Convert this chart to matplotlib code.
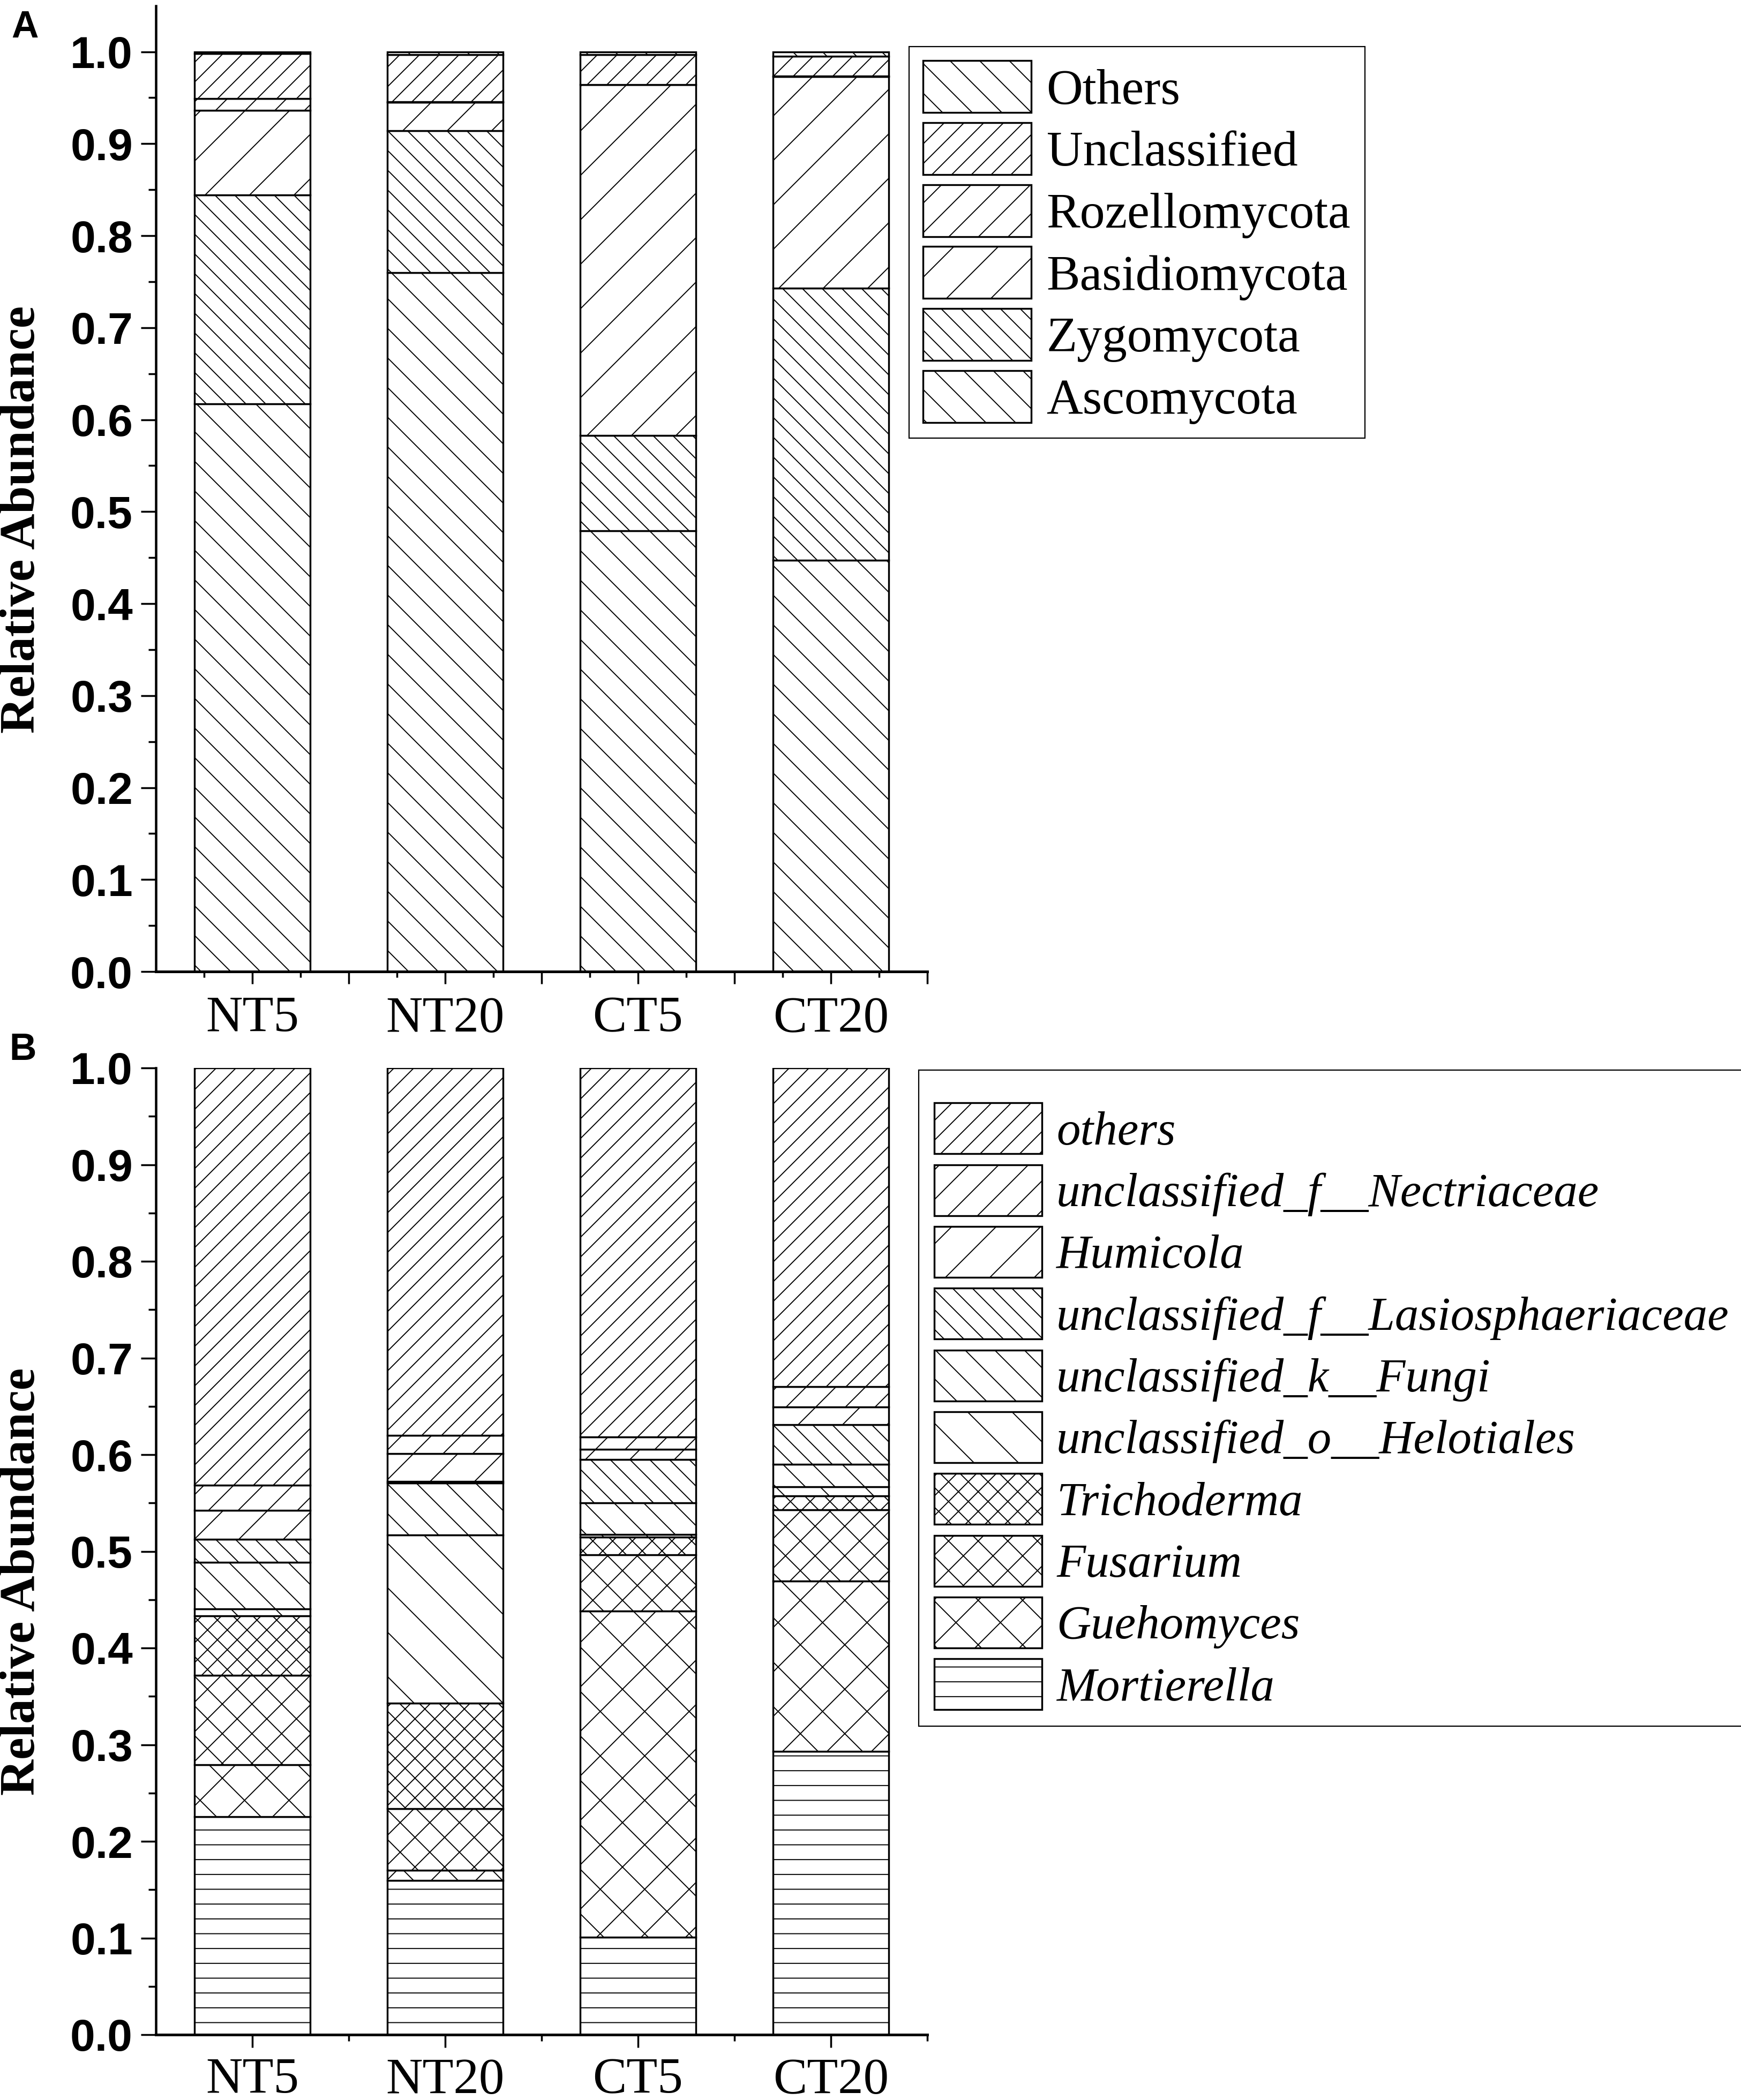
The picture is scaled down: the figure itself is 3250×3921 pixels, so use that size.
import matplotlib
matplotlib.use('Agg')
import matplotlib.pyplot as plt
from matplotlib.ticker import FixedLocator
import numpy as np

# ---------------- data ----------------
samples = ['NT5', 'NT20', 'CT5', 'CT20']

# Panel A (phylum level), stacking order bottom -> top
phylum_names = ['Ascomycota', 'Zygomycota', 'Basidiomycota',
                'Rozellomycota', 'Unclassified', 'Others']
ascomycota    = [0.617, 0.760, 0.479, 0.447]
zygomycota    = [0.227, 0.154, 0.104, 0.296]
basidiomycota = [0.092, 0.031, 0.381, 0.230]
rozellomycota = [0.013, 0.0005, 0.0005, 0.0005]
unclassified  = [0.049, 0.0515, 0.0325, 0.0215]
others_a      = [0.002, 0.003, 0.003, 0.005]

# Panel B (genus level), stacking order bottom -> top
genus_names = ['Mortierella', 'Guehomyces', 'Fusarium', 'Trichoderma',
               'unclassified_o__Helotiales', 'unclassified_k__Fungi',
               'unclassified_f__Lasiosphaeriaceae', 'Humicola',
               'unclassified_f__Nectriaceae', 'others']
mortierella = [0.2253, 0.1596, 0.1011, 0.2931]
guehomyces  = [0.0542, 0.0105, 0.3370, 0.1759]
fusarium    = [0.0920, 0.0637, 0.0584, 0.0742]
trichoderma = [0.0615, 0.1093, 0.0182, 0.0140]
helotiales  = [0.0076, 0.1738, 0.0030, 0.0095]
fungi_unc   = [0.0483, 0.0537, 0.0327, 0.0233]
lasiosph    = [0.0237, 0.0017, 0.0445, 0.0409]
humicola    = [0.0297, 0.0289, 0.0104, 0.0184]
nectriaceae = [0.0263, 0.0187, 0.0129, 0.0212]
others_b    = [0.4314, 0.3801, 0.3818, 0.3295]

y_ticks = [0.0, 0.1, 0.2, 0.3, 0.4, 0.5, 0.6, 0.7, 0.8, 0.9, 1.0]

# ---------------- style ----------------
DPI = 996
W, H = 3250, 3921


def px(v):
    """pixels -> points at the output dpi"""
    return v * 72.0 / DPI


SERIF = ['Liberation Serif', 'DejaVu Serif']
SANS = ['Liberation Sans', 'DejaVu Sans']

plt.rcParams['font.family'] = SERIF
plt.rcParams['hatch.linewidth'] = px(1.9)
plt.rcParams['hatch.color'] = 'black'

hatch_a = ['\\' * 6, '\\' * 9, '/' * 4, '/' * 6, '/' * 9, '\\' * 6]
hatch_b = ['-' * 6, 'x' * 4, 'x' * 6, 'x' * 9, '\\' * 4, '\\' * 6,
           '\\' * 9, '/' * 4, '/' * 6, '/' * 9]

fig = plt.figure(figsize=(W / DPI, H / DPI), dpi=DPI)

x = np.arange(1, len(samples) + 1)
BAR_W = 0.6
EDGE_LW = px(3.4)


def style_axes(ax, ylim_top):
    ax.set_xlim(0.5, 4.5)
    ax.set_ylim(0, ylim_top)
    for s in ['top', 'right']:
        ax.spines[s].set_visible(False)
    ax.spines['left'].set_linewidth(px(4.5))
    ax.spines['bottom'].set_linewidth(px(5))
    ax.set_yticks(y_ticks, labels=[f'{v:.1f}' for v in y_ticks],
                  fontfamily=SANS, fontweight='bold', fontsize=px(84))
    ax.yaxis.set_minor_locator(FixedLocator([v + 0.05 for v in y_ticks[:-1]]))
    ax.tick_params(axis='y', which='major', direction='out', length=px(28),
                   width=px(3.5), pad=px(15))
    ax.tick_params(axis='y', which='minor', direction='out', length=px(14),
                   width=px(3.5))
    ax.set_ylabel('Relative Abundance', fontsize=px(93), fontweight='bold',
                  fontfamily=SERIF, va='center')


def stack(ax, series, hatches):
    bottom = np.zeros(len(samples))
    bars = []
    for vals, h in zip(series, hatches):
        b = ax.bar(x, vals, BAR_W, bottom=bottom, color='white',
                   edgecolor='black', linewidth=EDGE_LW, hatch=h)
        bars.append(b)
        bottom = bottom + np.asarray(vals)
    return bars


# ---------------- panel A ----------------
axA = fig.add_axes([291 / W, 1 - 1814 / H, 1440 / W, (1814 - 10.7) / H])
series_a = [ascomycota, zygomycota, basidiomycota, rozellomycota,
            unclassified, others_a]
bars_a = stack(axA, series_a, hatch_a)
style_axes(axA, 1.05)
major_a = [1, 1.5, 2, 2.5, 3, 3.5, 4, 4.5]
labels_a = ['NT5', '', 'NT20', '', 'CT5', '', 'CT20', '']
axA.set_xticks(major_a, labels=labels_a, fontsize=px(95), fontfamily=SERIF)
axA.xaxis.set_minor_locator(FixedLocator([0.75, 1.25, 1.75, 2.25, 2.75,
                                          3.25, 3.75, 4.25]))
axA.tick_params(axis='x', which='major', direction='out', length=px(23),
                width=px(3.5), pad=px(23))
axA.tick_params(axis='x', which='minor', direction='out', length=px(11),
                width=px(3.5))
axA.yaxis.set_label_coords((42 - 291) / 1440, (1814 - 970) / (1814 - 10.7))

legA = axA.legend([b[0] for b in bars_a[::-1]], phylum_names[::-1],
                  loc='upper left',
                  bbox_to_anchor=(1697 / W, 1 - 87 / H),
                  bbox_transform=fig.transFigure,
                  borderaxespad=0,
                  handlelength=202 / 94, handleheight=1.21,
                  labelspacing=0.165, handletextpad=0.3, borderpad=0.28,
                  fancybox=False, shadow=False, framealpha=1,
                  edgecolor='black', prop={'family': SERIF, 'size': px(94)})
legA.get_frame().set_linewidth(px(2.2))

# ---------------- panel B ----------------
axB = fig.add_axes([291 / W, 1 - 3799 / H, 1440 / W, 1805 / H])
series_b = [mortierella, guehomyces, fusarium, trichoderma, helotiales,
            fungi_unc, lasiosph, humicola, nectriaceae, others_b]
bars_b = stack(axB, series_b, hatch_b)
style_axes(axB, 1.0)
axB.set_xticks(list(x), labels=samples, fontsize=px(95), fontfamily=SERIF)
axB.xaxis.set_minor_locator(FixedLocator([1.5, 2.5, 3.5, 4.5]))
axB.tick_params(axis='x', which='major', direction='out', length=px(24),
                width=px(3.5), pad=px(19))
axB.tick_params(axis='x', which='minor', direction='out', length=px(12),
                width=px(3.5))
axB.yaxis.set_label_coords((42 - 291) / 1440, (3799 - 2953) / 1805)

legB = axB.legend([b[0] for b in bars_b[::-1]], genus_names[::-1],
                  loc='upper left',
                  bbox_to_anchor=(1715 / W, 1 - 1998 / H),
                  bbox_transform=fig.transFigure,
                  borderaxespad=0,
                  handlelength=201 / 89, handleheight=1.265,
                  labelspacing=0.213, handletextpad=0.3, borderpad=0.33,
                  title=' ', title_fontsize=px(1),
                  fancybox=False, shadow=False, framealpha=1,
                  edgecolor='black',
                  prop={'family': SERIF, 'size': px(89), 'style': 'italic'})
legB.get_frame().set_linewidth(px(2.2))

# panel letters
fig.text(47 / W, 1 - 52 / H, 'A', ha='center', va='center',
         fontfamily=SANS, fontweight='bold', fontsize=px(70))
fig.text(43 / W, 1 - 1961 / H, 'B', ha='center', va='center',
         fontfamily=SANS, fontweight='bold', fontsize=px(70))

fig.savefig('out.png', dpi=DPI, facecolor='white')
